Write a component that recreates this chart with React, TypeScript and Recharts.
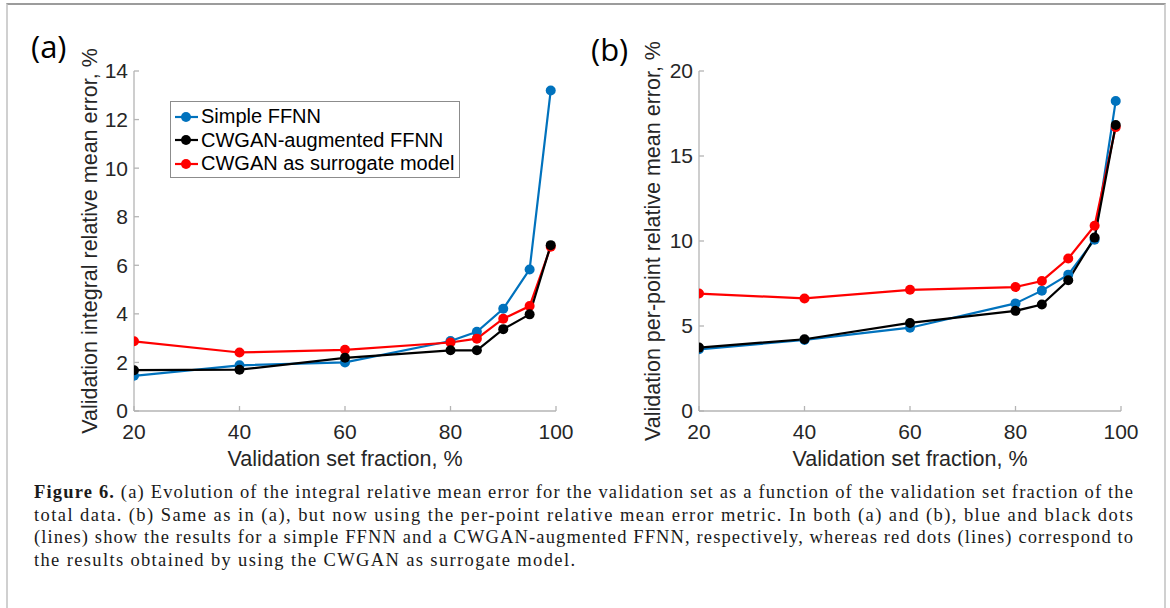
import React from 'react'
import { LineChart, Line, XAxis, YAxis, Legend } from 'recharts'

// validation set fraction, %
const fraction = [20, 40, 60, 80, 85, 90, 95, 99]

// (a) integral relative mean error, %
const integralSimple = [1.45, 1.88, 2.0, 2.88, 3.26, 4.21, 5.83, 13.2]
const integralAugmented = [1.68, 1.7, 2.19, 2.5, 2.5, 3.37, 3.98, 6.83]
const integralSurrogate = [2.87, 2.41, 2.52, 2.82, 2.98, 3.8, 4.32, 6.76]

// (b) per-point relative mean error, %
const perPointSimple = [3.63, 4.18, 4.9, 6.33, 7.08, 8.02, 10.08, 18.24]
const perPointAugmented = [3.73, 4.22, 5.18, 5.89, 6.26, 7.69, 10.2, 16.82]
const perPointSurrogate = [6.91, 6.62, 7.13, 7.29, 7.65, 8.97, 10.9, 16.7]

const xTicks = [20, 40, 60, 80, 100]
const integralTicks = [0, 2, 4, 6, 8, 10, 12, 14]
const perPointTicks = [0, 5, 10, 15, 20]

const captionLines = [
  ' (a) Evolution of the integral relative mean error for the validation set as a function of the validation set fraction of the',
  'total data. (b) Same as in (a), but now using the per-point relative mean error metric. In both (a) and (b), blue and black dots',
  '(lines) show the results for a simple FFNN and a CWGAN-augmented FFNN, respectively, whereas red dots (lines) correspond to',
  'the results obtained by using the CWGAN as surrogate model.',
]

const SANS = '"Liberation Sans", Arial, Helvetica, sans-serif'
const SERIF = '"Liberation Serif", "Times New Roman", serif'
const GREY = '#b4b4b4'
const INK = '#262626'

const series = [
  { key: 'simple', name: 'Simple FFNN', color: '#0072BD' },
  { key: 'augmented', name: 'CWGAN-augmented FFNN', color: '#000000' },
  { key: 'surrogate', name: 'CWGAN as surrogate model', color: '#FF0000' },
]
// red sits above blue, black above both
const drawOrder = ['simple', 'surrogate', 'augmented']

const toRows = (simple: number[], augmented: number[], surrogate: number[]) =>
  fraction.map((x, i) => ({ x, simple: simple[i], augmented: augmented[i], surrogate: surrogate[i] }))

const integralRows = toRows(integralSimple, integralAugmented, integralSurrogate)
const perPointRows = toRows(perPointSimple, perPointAugmented, perPointSurrogate)

function LegendBox() {
  return (
    <div style={{
      width: 288, height: 72, border: '1px solid #8c8c8c', background: '#fff',
      fontFamily: SANS, fontSize: 20, color: '#000', paddingTop: 3, boxSizing: 'content-box',
    }}>
      {series.map(s => (
        <div key={s.key} style={{ display: 'flex', alignItems: 'center', height: 23.5, whiteSpace: 'nowrap' }}>
          <svg width={30} height={12} style={{ flex: 'none' }}>
            <line x1={4} x2={27} y1={6} y2={6} stroke={s.color} strokeWidth={2.2} />
            <circle cx={15} cy={6} r={5} fill={s.color} />
          </svg>
          <span>{s.name}</span>
        </div>
      ))}
    </div>
  )
}

interface PanelProps {
  rows: { x: number }[]
  yDomain: [number, number]
  yTicks: number[]
  yTitle: string
  width: number
  plotLeft: number
  plotRight: number
  yTitleDx: number
  showLegend?: boolean
}

function Panel({ rows, yDomain, yTicks, yTitle, width, plotLeft, plotRight, yTitleDx, showLegend }: PanelProps) {
  const height = 480
  const top = 71
  const bottom = 411
  const tick = { fill: INK, fontSize: 21, fontFamily: SANS }
  const line = { stroke: GREY, strokeWidth: 1.3 }
  const titleStyle = { fill: INK, fontSize: 21.5, fontFamily: SANS }
  return (
    <LineChart width={width} height={height} data={rows}
      margin={{ top, right: width - plotRight, bottom: 0, left: 0 }}>
      <XAxis xAxisId="b" type="number" dataKey="x" domain={[20, 100]} ticks={xTicks} allowDataOverflow
        height={height - bottom} tickSize={-5} tickMargin={18} tick={tick} tickLine={line} axisLine={line}
        label={{ value: 'Validation set fraction, %', position: 'center', dy: 12.5, ...titleStyle }} />
      <XAxis xAxisId="t" orientation="top" type="number" dataKey="x" domain={[20, 100]} ticks={xTicks}
        allowDataOverflow height={0} tickSize={-5} tick={false} tickLine={line} axisLine={line} />
      <YAxis yAxisId="l" type="number" domain={yDomain} ticks={yTicks} allowDataOverflow width={plotLeft}
        tickSize={-5} tickMargin={11} tick={tick} tickLine={line} axisLine={line}
        label={{ value: yTitle, angle: -90, position: 'center', dx: yTitleDx, ...titleStyle }} />
      <YAxis yAxisId="r" orientation="right" type="number" domain={yDomain} ticks={yTicks} allowDataOverflow
        width={0} tickSize={-5} tick={false} tickLine={line} axisLine={line} />
      {showLegend && (
        <Legend layout="horizontal" align="center" verticalAlign="middle" content={() => <LegendBox />}
          wrapperStyle={{ left: 170, top: 101, width: 290, height: 76 }} />
      )}
      {drawOrder.map(k => {
        const s = series.find(d => d.key === k)!
        return (
          <Line key={k} xAxisId="b" yAxisId="l" type="linear" dataKey={k} name={s.name} stroke={s.color}
            strokeWidth={2.2} dot={{ r: 5, fill: s.color, stroke: s.color, strokeWidth: 0 }}
            activeDot={false} isAnimationActive={false} />
        )
      })}
    </LineChart>
  )
}

const panelLabel: React.CSSProperties = {
  position: 'absolute', fontFamily: '"Open Sans", sans-serif', fontSize: 31, lineHeight: 1, color: '#000',
}

export default function App() {
  return (
    <div style={{ position: 'absolute', left: 0, top: 0, width: 1170, height: 608, background: '#fff', overflow: 'hidden' }}>
      <div style={{
        position: 'absolute', left: 6, top: 3, width: 1156, height: 700,
        borderTop: '2px solid #9c9c9c', borderLeft: '2px solid #d0d0d0', borderRight: '2px solid #d0d0d0',
      }} />
      <div style={{ position: 'absolute', left: 0, top: 0 }}>
        <Panel rows={integralRows} yDomain={[0, 14]} yTicks={integralTicks}
          yTitle="Validation integral relative mean error, %" width={580} plotLeft={134} plotRight={556}
          yTitleDx={22} showLegend />
      </div>
      <div style={{ position: 'absolute', left: 580, top: 0 }}>
        <Panel rows={perPointRows} yDomain={[0, 20]} yTicks={perPointTicks}
          yTitle="Validation per-point relative mean error, %" width={590} plotLeft={119} plotRight={541}
          yTitleDx={13} />
      </div>
      <div style={{ ...panelLabel, left: 31, top: 31 }}>(a)</div>
      <div style={{ ...panelLabel, left: 591, top: 34 }}>(b)</div>
      <svg width={1170} height={138} style={{ position: 'absolute', left: 0, top: 470 }}>
        {captionLines.map((t, i) => (
          <text key={i} x={34} y={28 + i * 22.7} fontFamily={SERIF} fontSize={18.5} fill="#1a1a1a"
            textLength={i < 3 ? 1099 : 541} lengthAdjust="spacing">
            {i === 0 && <tspan fontWeight="bold">Figure 6.</tspan>}
            {t}
          </text>
        ))}
      </svg>
    </div>
  )
}
